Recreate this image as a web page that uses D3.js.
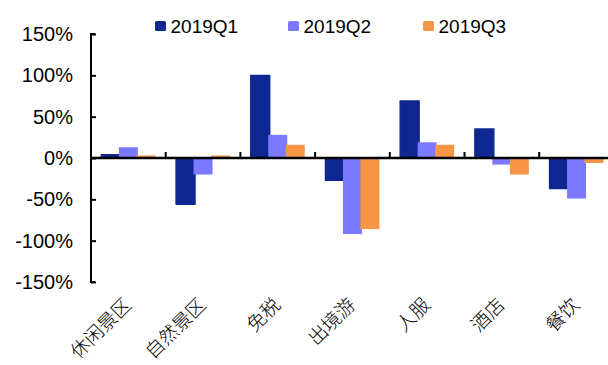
<!DOCTYPE html>
<html>
<head>
<meta charset="utf-8">
<script src="https://cdn.jsdelivr.net/npm/d3@7"></script>
<style>
  html, body { margin: 0; padding: 0; background: #fff; }
  svg { display: block; }
  text { font-family: "Liberation Sans", Arial, sans-serif; fill: #000; }
  .cat { font-family: "Noto Sans CJK SC", sans-serif; font-weight: 300; }
</style>
</head>
<body>
<svg id="chart" width="608" height="365"></svg>
<script>
// Year-over-year growth by sub-sector, per quarter (%)
const categories = ["休闲景区", "自然景区", "免税", "出境游", "人服", "酒店", "餐饮"];
const seriesNames = ["2019Q1", "2019Q2", "2019Q3"];
const q1 = [4, -56, 100, -27, 69, 35, -37];
const q2 = [13, -20, 28, -92, 19, -8, -49];
const q3 = [3, 3, 16, -86, 16, -20, -6];
const yTicks = [150, 100, 50, 0, -50, -100, -150];
const colors = ["#0f2791", "#7b79ff", "#f79646"];

const seriesValues = [q1, q2, q3];
const svg = d3.select("#chart");

const x = d3.scaleBand().domain(categories).range([91, 91 + 74.7 * categories.length]);
const y = d3.scaleLinear().domain([-150, 150]).range([282, 34]);

const barW = 19, step = 17.5;
const groupW = step * (seriesNames.length - 1) + barW;
const offset = (x.bandwidth() - groupW) / 2;

// bars (later series drawn on top)
seriesValues.forEach((vals, s) => {
  svg.append("g")
    .selectAll("rect")
    .data(categories.map((c, i) => ({ c, v: vals[i] })))
    .join("rect")
    .attr("x", d => x(d.c) + offset + s * step)
    .attr("width", barW)
    .attr("y", d => y(Math.max(0, d.v)))
    .attr("height", d => Math.abs(y(d.v) - y(0)))
    .attr("fill", colors[s])
    .attr("stroke", s === 0 ? colors[s] : "none")
    .attr("stroke-width", s === 0 ? 1.4 : 0)
    .attr("stroke-linejoin", "round");
});

// y axis with inward ticks
const yAxis = d3.axisLeft(y).tickValues(yTicks).tickSize(-5).tickPadding(20)
  .tickFormat(d => d + "%");
const gy = svg.append("g").attr("transform", "translate(91,0)").call(yAxis);
gy.select(".domain").attr("stroke", "#000").attr("stroke-width", 2)
  .attr("d", "M4,34H0V282H4");
gy.selectAll(".tick line").attr("stroke", "#000").attr("stroke-width", 2);
gy.selectAll(".tick text").attr("font-size", 20).attr("x", -18);

// zero baseline with category separators
const xAxis = d3.axisTop(x).tickSize(0).tickFormat("");
const gx = svg.append("g").attr("transform", `translate(0,${y(0)})`).call(xAxis);
gx.select(".domain").attr("stroke", "#000").attr("stroke-width", 2.5)
  .attr("d", `M91,0H${x.range()[1]}`);
gx.selectAll(".tick").remove();
gx.selectAll("line.sep")
  .data(categories.slice(1))
  .join("line")
  .attr("class", "sep")
  .attr("x1", d => x(d)).attr("x2", d => x(d))
  .attr("y1", 0).attr("y2", -6)
  .attr("stroke", "#000").attr("stroke-width", 2);

// category labels, rotated
svg.append("g")
  .selectAll("text")
  .data(categories)
  .join("text")
  .attr("class", "cat")
  .attr("transform", d => `translate(${x(d) + x.bandwidth() / 2 + 4},306) rotate(-45)`)
  .attr("text-anchor", "end")
  .attr("font-size", 19)
  .text(d => d);

// legend
const legendX = [155, 288, 423];
const lg = svg.append("g")
  .selectAll("g")
  .data(seriesNames)
  .join("g")
  .attr("transform", (d, i) => `translate(${legendX[i]},21)`);
lg.append("rect").attr("width", 11).attr("height", 10).attr("rx", 1.5)
  .attr("fill", (d, i) => colors[i]);
lg.append("text").attr("x", 15.5).attr("y", 11.7).attr("font-size", 19).text(d => d);
</script>
</body>
</html>
